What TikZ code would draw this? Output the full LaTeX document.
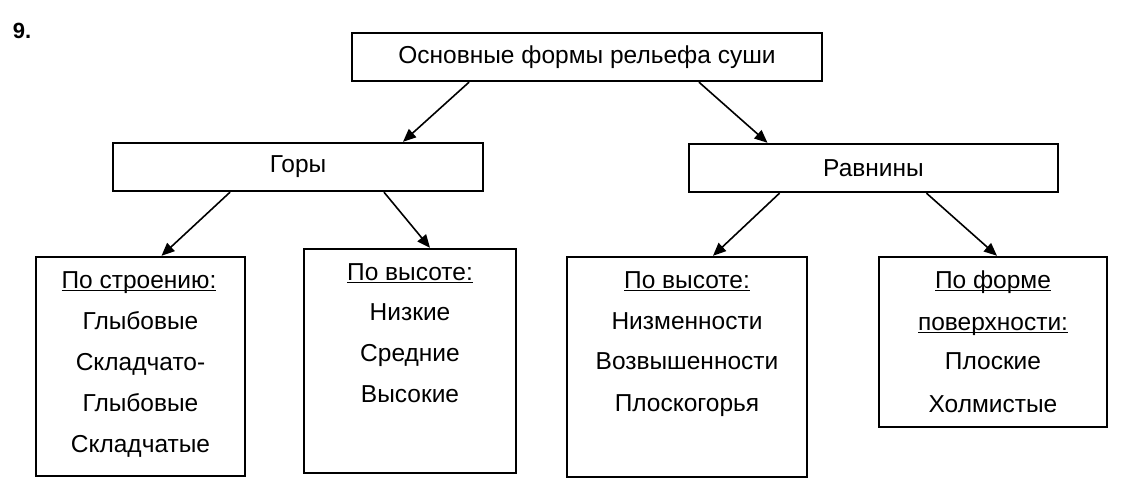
\documentclass[tikz,border=0pt]{standalone}
\usepackage{fontspec}
\setmainfont{Liberation Sans}
\usetikzlibrary{arrows.meta}
\newcommand\ulin[1]{\underline{\smash{#1}}}
\begin{document}
\begin{tikzpicture}
		[	x=1pt,y=-1pt,
		box/.style={rectangle,draw=black,line width=2.4pt,inner sep=0pt,font=\fontsize{24.5}{29}\selectfont},
		plain/.style={draw=none,fill=none,inner sep=0pt,text height=18pt,text depth=5pt,font=\fontsize{24.5}{29}\selectfont},
		arr/.style={-{Triangle[length=13pt,width=11pt]},line width=1.6pt}
		]
		\useasboundingbox (0,0) rectangle (1122,490);
		\node[plain,font=\fontsize{22}{26}\selectfont\bfseries] (num) at (22,32){9.};
		\node[box,minimum width=470pt,minimum height=48pt] (main) at (587,57){Основные формы рельефа суши};
		\node[box,minimum width=370pt,minimum height=48pt] (gory) at (298,167){Горы};
		\node[box,minimum width=369pt,minimum height=48pt] (ravn) at (873.5,168){Равнины};
		\node[box,minimum width=209pt,minimum height=219pt] (stroy) at (140.5,366.5){};
		\node[box,minimum width=212pt,minimum height=224pt] (gvys) at (410,361){};
		\node[box,minimum width=240pt,minimum height=220pt] (rvys) at (687,367){};
		\node[box,minimum width=228pt,minimum height=170pt] (forma) at (993,342){};
\node[plain] (stroy0) at (139,282){\ulin{По строению:}};
\node[plain] (stroy1) at (140.5,323){Глыбовые};
\node[plain] (stroy2) at (140.5,364){Складчато-};
\node[plain] (stroy3) at (140.5,405){Глыбовые};
\node[plain] (stroy4) at (140.5,446){Складчатые};
\node[plain] (gvys0) at (410,274){\ulin{По высоте:}};
\node[plain] (gvys1) at (410,314){Низкие};
\node[plain] (gvys2) at (410,355){Средние};
\node[plain] (gvys3) at (410,396){Высокие};
\node[plain] (rvys0) at (687,282){\ulin{По высоте:}};
\node[plain] (rvys1) at (687,323){Низменности};
\node[plain] (rvys2) at (687,363){Возвышенности};
\node[plain] (rvys3) at (687,405){Плоскогорья};
\node[plain] (forma0) at (993,282){\ulin{По форме}};
\node[plain] (forma1) at (993,324){\ulin{поверхности:}};
\node[plain] (forma2) at (993,363){Плоские};
\node[plain] (forma3) at (993,406){Холмистые};
		\draw[arr] ([xshift=-118pt]main.south) -- ([xshift=105pt]gory.north);
		\draw[arr] ([xshift=112pt]main.south) -- ([xshift=-106pt]ravn.north);
		\draw[arr] ([xshift=-68pt]gory.south) -- ([xshift=21pt]stroy.north);
		\draw[arr] ([xshift=86pt]gory.south) -- ([xshift=20pt]gvys.north);
		\draw[arr] ([xshift=-94pt]ravn.south) -- ([xshift=26pt]rvys.north);
		\draw[arr] ([xshift=53pt]ravn.south) -- ([xshift=4pt]forma.north);
\end{tikzpicture}
\end{document}
